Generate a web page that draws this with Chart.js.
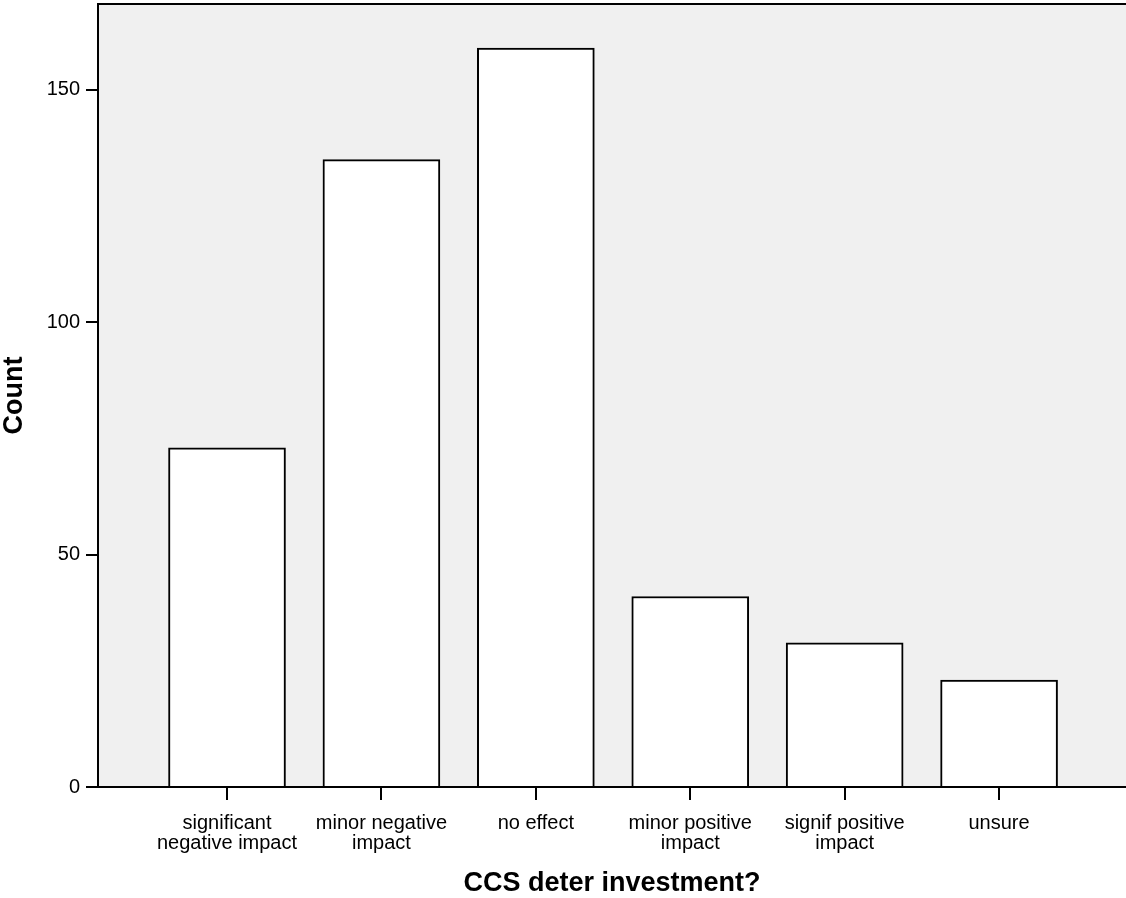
<!DOCTYPE html>
<html lang="en">

<head>
  <meta charset="UTF-8">
  <title>CCS deter investment?</title>
  <script src="https://cdn.jsdelivr.net/npm/chart.js"></script>
  <style>
    html, body { margin: 0; padding: 0; background: #ffffff; }
    #chartContainer { width: 1126px; height: 898px; }
  </style>
</head>

<body>
  <div id="chartContainer">
    <canvas id="myChart"></canvas>
  </div>

  <script>
    // Datos del gráfico
    const categories = [
      ['significant', 'negative impact'],
      ['minor negative', 'impact'],
      ['no effect'],
      ['minor positive', 'impact'],
      ['signif positive', 'impact'],
      ['unsure']
    ];
    const counts = [73, 135, 159, 41, 31, 23];
    const yTicks = [0, 50, 100, 150];

    // Fondo gris del área del gráfico y borde superior
    const plotBackground = {
      id: 'plotBackground',
      beforeDraw(chart) {
        const { ctx, chartArea: a } = chart;
        ctx.save();
        ctx.fillStyle = '#f0f0f0';
        ctx.fillRect(a.left, a.top, a.right - a.left, a.bottom - a.top);
        ctx.strokeStyle = '#000';
        ctx.lineWidth = 2;
        ctx.beginPath();
        ctx.moveTo(a.left, a.top);
        ctx.lineTo(a.right, a.top);
        ctx.stroke();
        ctx.restore();
      }
    };

    const ctx = document.getElementById('myChart').getContext('2d');
    new Chart(ctx, {
      type: 'bar',
      data: {
        datasets: [{
          label: 'Count',
          data: counts.map((v, i) => ({ x: i, y: v })),
          backgroundColor: '#ffffff',
          borderColor: '#000000',
          borderWidth: 2,
          barThickness: 117
        }]
      },
      options: {
        responsive: true,
        maintainAspectRatio: false,
        animation: false,
        layout: { padding: { top: 4, right: 0, left: 0, bottom: 0 } },
        plugins: {
          legend: { display: false },
          tooltip: { enabled: false }
        },
        scales: {
          x: {
            type: 'linear',
            offset: false,
            min: -0.8355,
            max: 5.822,
            afterBuildTicks: s => { s.ticks = categories.map((c, i) => ({ value: i })); },
            afterFit: s => { s.height = 111; s.paddingLeft = 0; s.paddingRight = 0; },
            grid: { offset: false, drawOnChartArea: false, drawTicks: true, tickLength: 13, color: '#000', lineWidth: 2 },
            border: { display: true, color: '#000', width: 2, z: 1 },
            ticks: {
              color: '#000',
              padding: 13,
              maxRotation: 0,
              autoSkip: false,
              font: { family: 'Liberation Sans, Arial, sans-serif', size: 20, lineHeight: 1.0 },
              callback: v => categories[v]
            },
            title: {
              display: true,
              text: 'CCS deter investment?',
              color: '#000',
              padding: 0,
              font: { family: 'Liberation Sans, Arial, sans-serif', size: 27, weight: 'bold', lineHeight: 1.1 }
            }
          },
          y: {
            min: 0,
            max: 168.5,
            afterBuildTicks: s => { s.ticks = yTicks.map(v => ({ value: v })); },
            afterFit: s => { s.width = 98; s.paddingTop = 0; s.paddingBottom = 0; },
            grid: { drawOnChartArea: false, drawTicks: true, tickLength: 12, color: '#000', lineWidth: 2 },
            border: { display: true, color: '#000', width: 2, z: 1 },
            ticks: {
              color: '#000',
              padding: 6,
              font: { family: 'Liberation Sans, Arial, sans-serif', size: 20 }
            },
            title: {
              display: true,
              text: 'Count',
              color: '#000',
              padding: 0,
              font: { family: 'Liberation Sans, Arial, sans-serif', size: 27, weight: 'bold', lineHeight: 1.1 }
            }
          }
        }
      },
      plugins: [plotBackground]
    });
  </script>

</body>

</html>
